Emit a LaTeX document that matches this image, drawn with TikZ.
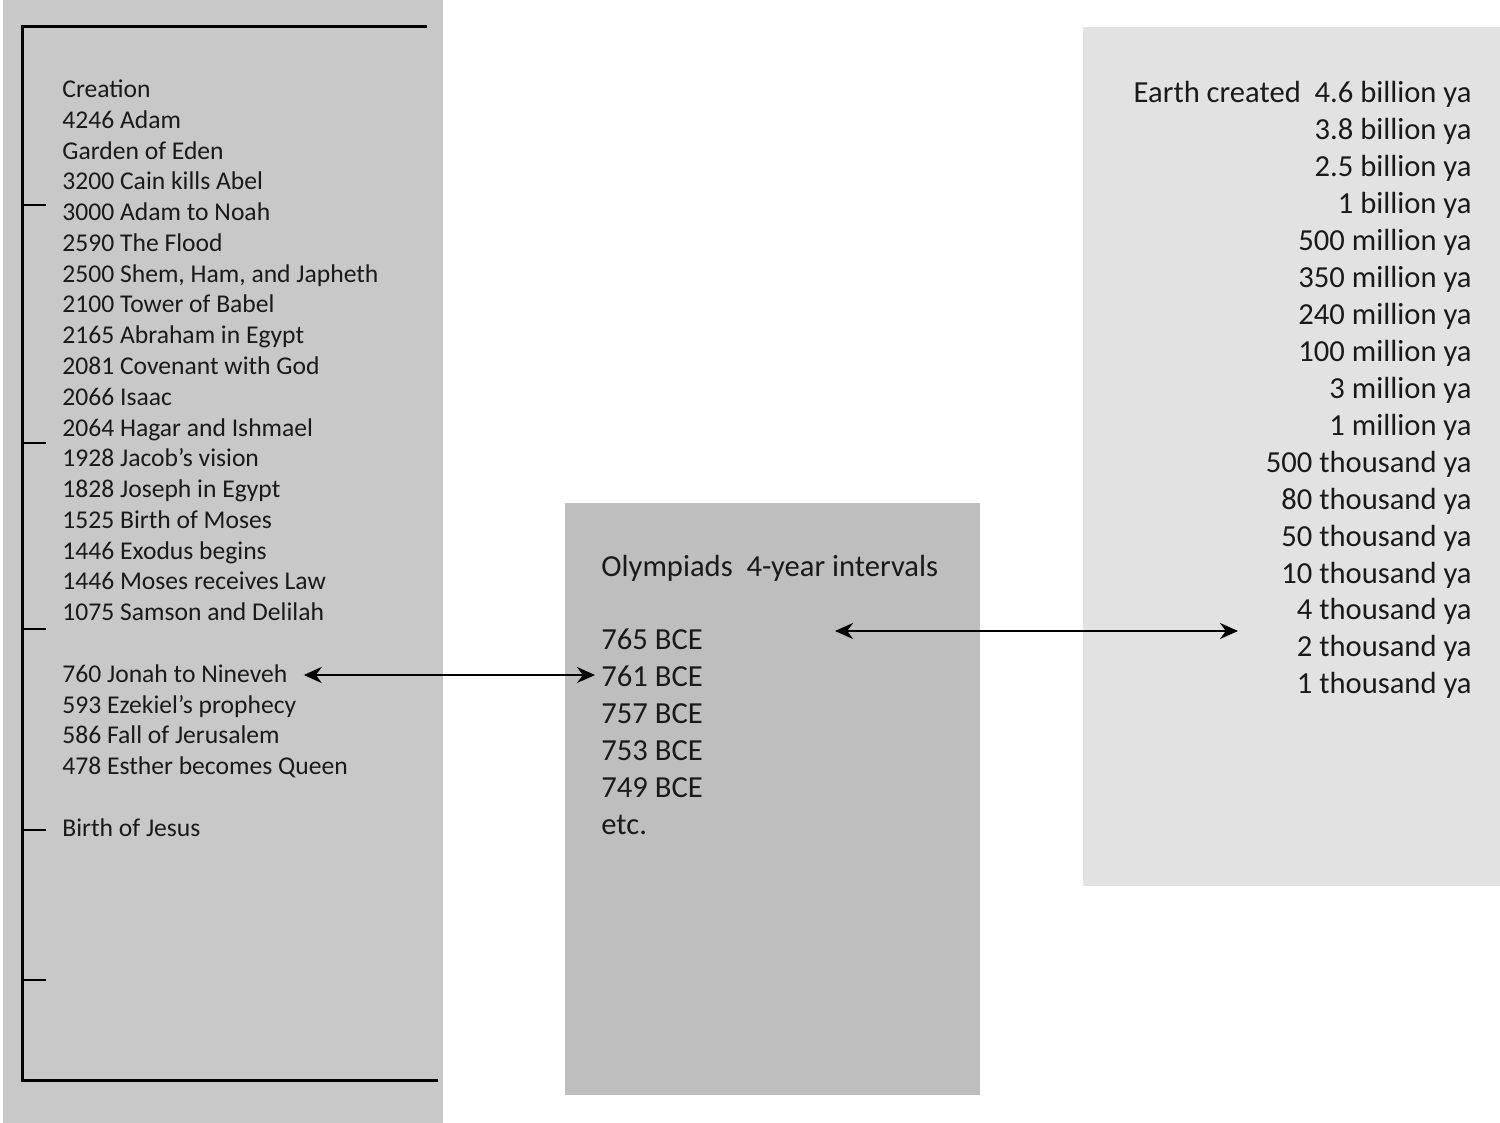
\documentclass[tikz,border=0pt]{standalone}
\usepackage{fontspec}
\setmainfont{Carlito}
\usetikzlibrary{arrows.meta}
\definecolor{leftgray}{HTML}{C8C8C8}
\definecolor{midgray}{HTML}{BEBEBE}
\definecolor{rightgray}{HTML}{E2E2E2}
\definecolor{ink}{HTML}{1A1A1A}
\begin{document}
\begin{tikzpicture}[x=0.5pt,y=-0.5pt,
  panel/.style={fill=#1,draw=none},
  frame/.style={line width=1.5pt,black},
  tick/.style={line width=1pt,black},
  lefttext/.style={anchor=mid west,inner sep=0pt,text=ink,font=\fontsize{12.8}{15}\selectfont},
  midtext/.style={anchor=mid west,inner sep=0pt,text=ink,font=\fontsize{15.3}{18}\selectfont},
  righttext/.style={anchor=mid east,inner sep=0pt,text=ink,font=\fontsize{15.3}{18}\selectfont},
  link/.style={line width=1.1pt,black,{Stealth[length=9pt,width=8pt]}-{Stealth[length=9pt,width=8pt]}}]
\useasboundingbox (0,0) rectangle (1500,1123);
\fill[white] (0,0) rectangle (1500,1123);

% background panels
\fill[panel=leftgray] (3,0) rectangle (443,1123);
\fill[panel=midgray] (565,503) rectangle (980,1095);
\fill[panel=rightgray] (1083,27) rectangle (1500,886);

% biblical time line frame
\draw[frame] (427,27) -- (22,27) -- (22,1080) -- (438,1080);
\foreach \ty in {205,443,629,830,980}
  \draw[tick] (22,\ty) -- (46,\ty);

% biblical events
\foreach \ty/\txt [count=\i] in {
  93/Creation,
  124/4246 Adam,
  155/Garden of Eden,
  185/3200 Cain kills Abel,
  216/3000 Adam to Noah,
  247/2590 The Flood,
  278/{2500 Shem, Ham, and Japheth},
  308/2100 Tower of Babel,
  339/2165 Abraham in Egypt,
  370/2081 Covenant with God,
  401/2066 Isaac,
  432/2064 Hagar and Ishmael,
  462/1928 Jacob’s vision,
  493/1828 Joseph in Egypt,
  524/1525 Birth of Moses,
  555/1446 Exodus begins,
  585/1446 Moses receives Law,
  616/1075 Samson and Delilah}
  \node[lefttext] (ev\i) at (62,\ty) {\txt};
\node[lefttext] (jonah) at (62,678) {760 Jonah to Nineveh};
\node[lefttext] (ezekiel) at (62,709) {593 Ezekiel’s prophecy};
\node[lefttext] (jerusalem) at (62,739) {586 Fall of Jerusalem};
\node[lefttext] (esther) at (62,770) {478 Esther becomes Queen};
\node[lefttext] (jesus) at (62,832) {Birth of Jesus};

% Olympiads
\node[midtext] (olymp) at (601,572) {Olympiads\ \ 4-year intervals};
\node[midtext] (b765) at (601,645) {765 BCE};
\node[midtext] (b761) at (601,682) {761 BCE};
\node[midtext] (b757) at (601,719) {757 BCE};
\node[midtext] (b753) at (601,756) {753 BCE};
\node[midtext] (b749) at (601,793) {749 BCE};
\node[midtext] (etc) at (601,830) {etc.};

% geological time
\foreach \ty/\txt [count=\i] in {
  98/{Earth created\ \ 4.6 billion ya},
  135/3.8 billion ya,
  172/2.5 billion ya,
  209/1 billion ya,
  246/500 million ya,
  283/350 million ya,
  320/240 million ya,
  357/100 million ya,
  394/3 million ya,
  431/1 million ya,
  468/500 thousand ya,
  505/80 thousand ya,
  542/50 thousand ya,
  579/10 thousand ya,
  615/4 thousand ya,
  652/2 thousand ya,
  689/1 thousand ya}
  \node[righttext] (geo\i) at (1472,\ty) {\txt};

% connectors
\coordinate (olympend) at (835,631);
\coordinate (geoend) at (1238,631);
\draw[link] ([xshift=8pt]jonah.east |- 0,675) -- ([xshift=-3pt]b761.west |- 0,675);
\draw[link] (olympend) -- (geoend);
\end{tikzpicture}
\end{document}
